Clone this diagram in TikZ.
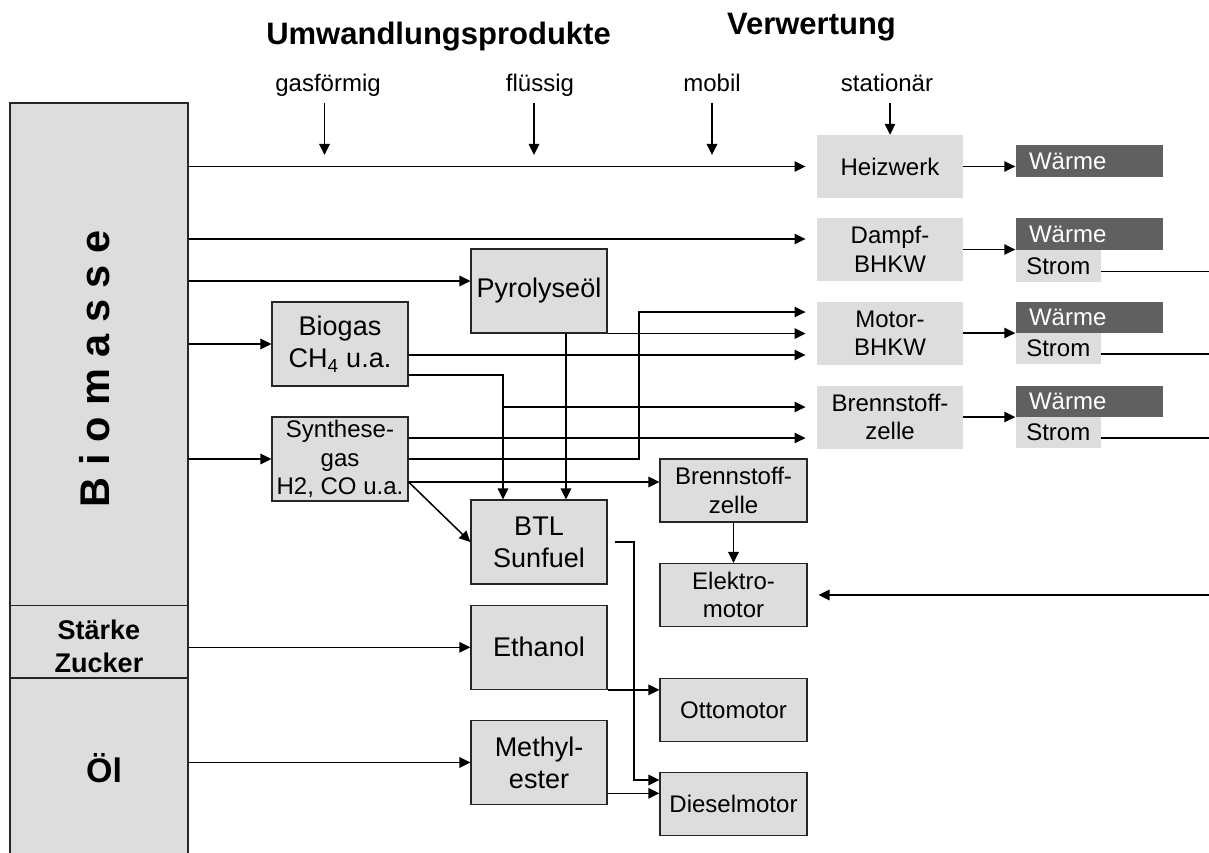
\documentclass[tikz,border=0pt]{standalone}
\usepackage{fontspec}
\setmainfont{Liberation Sans}
\usetikzlibrary{arrows.meta}
\definecolor{boxgray}{HTML}{DDDDDD}
\definecolor{heatgray}{HTML}{606060}
\newcommand{\fbig}{\fontsize{27}{32}\selectfont}
\newcommand{\fsml}{\fontsize{24}{28.5}\selectfont}
\tikzset{
  box/.style={draw=black!85,line width=1.2pt,fill=boxgray,inner sep=0pt,align=center,
    minimum width=136pt,minimum height=84pt,font=\fbig},
  smallbox/.style={box,minimum width=147pt,minimum height=63pt,font=\fsml},
  plant/.style={fill=boxgray,inner sep=0pt,align=center,minimum width=146.5pt,
    minimum height=63pt,font=\fsml},
  heat/.style={fill=heatgray,text=white,inner xsep=13.5pt,inner ysep=0pt,
    text width=120.5pt,align=left,minimum height=31.5pt,font=\fsml},
  power/.style={fill=boxgray,inner sep=0pt,minimum width=85.5pt,minimum height=31.5pt,font=\fsml},
  col/.style={draw=black!85,line width=1.2pt,fill=boxgray,inner sep=0pt,minimum width=178pt},
  coltext/.style={align=center,inner sep=0pt},
  arr/.style={line width=1.5pt,-{Triangle[length=11pt,width=10.5pt]}},
  arrp/.style={arr,shorten >=11pt},
  ln/.style={line width=1.5pt},
  kind/.style={font=\fsml,anchor=base,inner sep=0pt},
  head/.style={font=\fontsize{31}{35}\selectfont\bfseries,anchor=base}
}
\begin{document}
\begin{tikzpicture}[x=1pt,y=-1pt]
\useasboundingbox (0,0) rectangle (1209,853);
% headings
\node[head] (conv) at (438.5,45) {Umwandlungsprodukte};
\node[head] (use) at (811.5,35) {Verwertung};
\node[kind] (gas) at (328,92) {gasförmig};
\node[kind] (fl) at (540,92) {flüssig};
\node[kind] (mob) at (712,92) {mobil};
\node[kind] (sta) at (887,92) {stationär};

% raw material column
\node[col,minimum height=502.5pt] (bio) at (99,354.25) {};
\node[col,minimum height=72.5pt] (staerke) at (99,641.75) {};
\node[col,minimum height=177pt] (oel) at (99,766.5) {};
\node[coltext,rotate=90,font=\fontsize{41.5}{41.5}\selectfont\bfseries] (biotxt) at (95,369) {B i o m a s s e};
\node[coltext,font=\fontsize{27}{33}\selectfont\bfseries] (sztxt) at (99,646) {Stärke\\Zucker};
\node[coltext,font=\fontsize{34}{38}\selectfont\bfseries,anchor=base] (oeltxt) at (104,782.5) {Öl};

% conversion products
\node[box] (pyro) at (539,291) {Pyrolyseöl};
\node[box] (biogas) at (340,344) {Biogas\\CH\textsubscript{4} u.a.};
\node[box,font=\fsml] (syn) at (340,459) {Synthese-\\gas\\H2, CO u.a.};
\node[box] (btl) at (539,542) {BTL\\Sunfuel};
\node[box] (eth) at (539,647.3) {Ethanol};
\node[box] (meth) at (539,762.5) {Methyl-\\ester};
\node[smallbox] (fcm) at (733.5,490.5) {Brennstoff-\\zelle};
\node[smallbox] (emot) at (733.5,595) {Elektro-\\motor};
\node[smallbox] (otto) at (733.5,710) {Ottomotor};
\node[smallbox] (diesel) at (733.5,804.3) {Dieselmotor};

% stationary use
\node[plant] (heiz) at (890,166.5) {Heizwerk};
\node[plant] (dampf) at (890,249.5) {Dampf-\\BHKW};
\node[plant] (motor) at (890,333) {Motor-\\BHKW};
\node[plant] (fcr) at (890,417) {Brennstoff-\\zelle};
\node[heat] (w1) at (1089.25,161) {Wärme};
\node[heat] (w2) at (1089.25,234) {Wärme};
\node[power] (s2) at (1058.25,265.75) {Strom};
\node[heat] (w3) at (1089.25,317.5) {Wärme};
\node[power] (s3) at (1058.25,348.5) {Strom};
\node[heat] (w4) at (1089.25,401.5) {Wärme};
\node[power] (s4) at (1058.25,432.5) {Strom};
\coordinate (rim) at (1209,0);
\coordinate (j1) at (503,407);

% top arrows
\draw[arr] ([xshift=-3.5pt,yshift=-11pt]gas.base) -- ++(0,52);
\draw[arr] ([xshift=-6pt,yshift=-11pt]fl.base) -- ++(0,52);
\draw[arr] ([yshift=-11pt]mob.base) -- ++(0,52);
\draw[arr] (heiz.north |- 0,103) -- (heiz.north);

% from the column
\draw[arrp] (bio.east |- heiz) -- (heiz.west);
\draw[arrp] (bio.east |- 0,239) -- (dampf.west |- 0,239);
\draw[arr] (bio.east |- 0,281) -- (pyro.west |- 0,281);
\draw[arr] (bio.east |- biogas) -- (biogas.west);
\draw[arr] (bio.east |- syn) -- (syn.west);
\draw[arr] (staerke.east |- eth) -- (eth.west);
\draw[arr] (oel.east |- meth) -- (meth.west);

% Pyrolyseoel
\draw[arrp] (pyro.south east) -- (motor.west |- pyro.south east);
\draw[arr] (pyro.south -| 566,0) -- (btl.north -| 566,0);

% Biogas
\draw[arrp] (biogas.east |- 0,355) -- (motor.west |- 0,355);
\draw[arr] (biogas.east |- 0,375) -- (503,375) -- (btl.north -| j1);
\draw[arrp] (j1) -- (fcr.west |- j1);

% Synthesegas
\draw[arrp] (syn.east |- 0,438) -- (fcr.west |- 0,438);
\draw[arrp] (syn.east) -- (syn.east -| 639,0) |- ([yshift=21pt]motor.west);
\draw[arr] (syn.east |- 0,482) -- (fcm.west |- 0,482);
\draw[arr] (syn.east |- 0,482) -- (btl.west);

% fuels to engines
\draw[arr,shorten <=7pt] (btl.east) -- (btl.east -| 634,0) |- (diesel.west |- 0,780);
\draw[arr] (eth.south east) -- (otto.west |- eth.south east);
\draw[arr] (meth.east |- 0,793.3) -- (diesel.west |- 0,793.3);
\draw[arr] (fcm.south) -- (emot.north);
\draw[arrp] (rim |- emot) -- (emot.east);

% plants to heat and power
\draw[arr] (heiz.east) -- (w1.west |- heiz.east);
\draw[arr] (dampf.east) -- (w2.west |- dampf.east);
\draw[arr] (motor.east) -- (w3.west |- motor.east);
\draw[arr] (fcr.east) -- (w4.west |- fcr.east);
\draw[ln] ([yshift=-5.5pt]s2.east) -- ([yshift=-5.5pt]s2.east -| rim);
\draw[ln] ([yshift=-5.5pt]s3.east) -- ([yshift=-5.5pt]s3.east -| rim);
\draw[ln] ([yshift=-5.5pt]s4.east) -- ([yshift=-5.5pt]s4.east -| rim);
\end{tikzpicture}
\end{document}
